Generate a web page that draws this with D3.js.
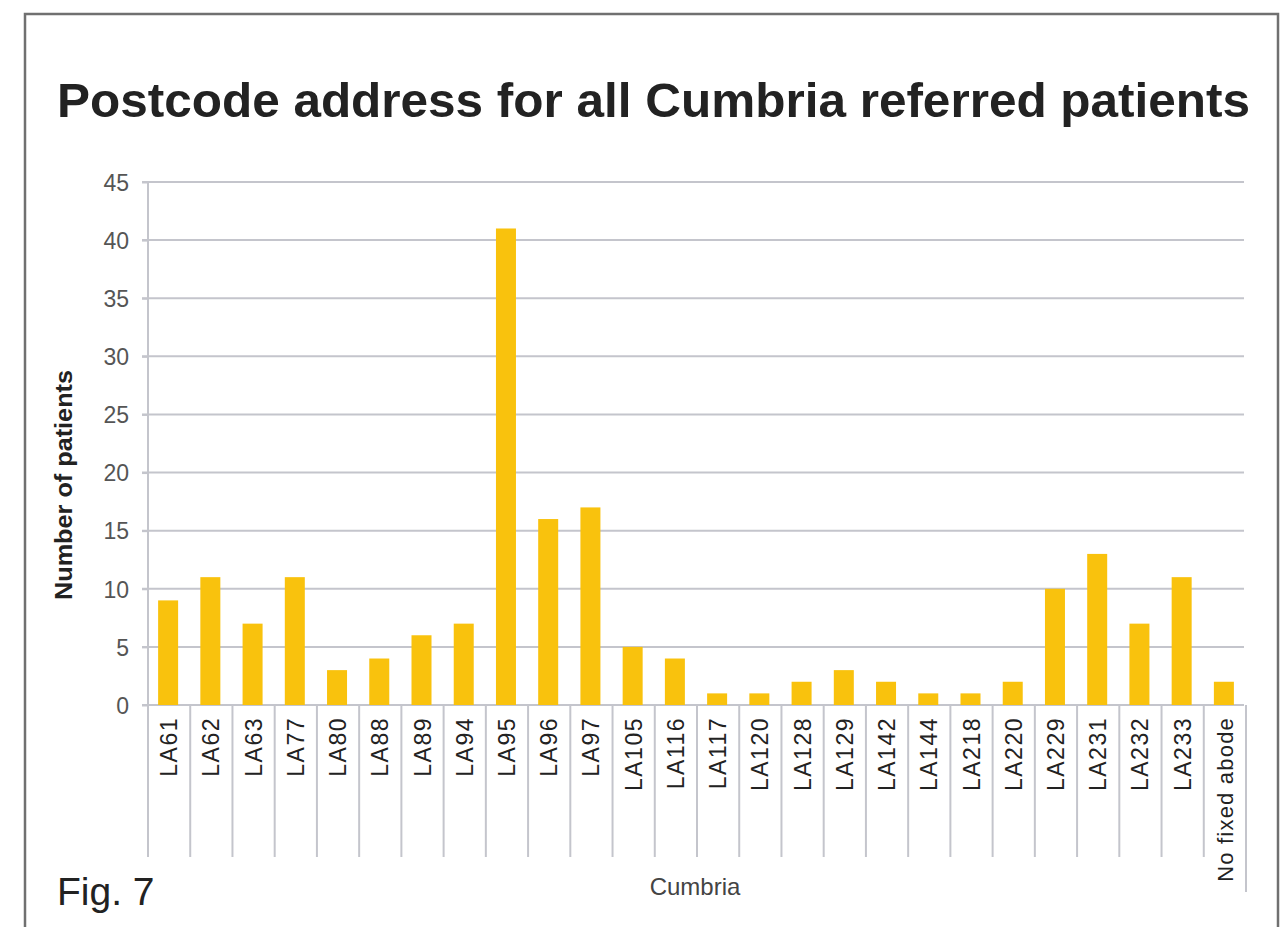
<!DOCTYPE html>
<html>
<head>
<meta charset="utf-8">
<script src="https://cdn.jsdelivr.net/npm/d3@7"></script>
<style>
  html, body { margin: 0; padding: 0; background: #fff; }
  svg { display: block; font-family: "Liberation Sans", Arial, sans-serif; }
</style>
</head>
<body>
<svg id="chart" width="1282" height="927"></svg>
<script>
(function (d3) {
    'use strict';

    var categories = ['LA61', 'LA62', 'LA63', 'LA77', 'LA80', 'LA88', 'LA89', 'LA94', 'LA95',
        'LA96', 'LA97', 'LA105', 'LA116', 'LA117', 'LA120', 'LA128', 'LA129', 'LA142',
        'LA144', 'LA218', 'LA220', 'LA229', 'LA231', 'LA232', 'LA233', 'No fixed abode'];
    var patients = [9, 11, 7, 11, 3, 4, 6, 7, 41, 16, 17, 5, 4, 1, 1, 2, 3, 2, 1, 1, 2, 10, 13, 7, 11, 2];
    var yTicks = [0, 5, 10, 15, 20, 25, 30, 35, 40, 45];

    var svg = d3.select('#chart');

    var left = 148, right = 1246, top = 182, bottom = 705;
    var gridColor = '#c4c5cc';

    var x = d3.scaleBand().domain(categories).range([left, right]).paddingInner(0).paddingOuter(0);
    var y = d3.scaleLinear().domain([0, 45]).range([bottom, top]);

    // outer frame
    svg.append('path')
        .attr('d', 'M25,940 V14 H1278 V940')
        .attr('fill', 'none')
        .attr('stroke', '#707070')
        .attr('stroke-width', 2.5);

    svg.append('text')
        .attr('x', 57).attr('y', 117)
        .attr('font-size', 49).attr('font-weight', 'bold')
        .attr('fill', '#222')
        .attr('textLength', 1193).attr('lengthAdjust', 'spacingAndGlyphs')
        .text('Postcode address for all Cumbria referred patients');

    // gridlines
    svg.append('g')
        .selectAll('line')
        .data(yTicks)
        .enter()
        .append('line')
        .attr('x1', 142).attr('x2', 1244)
        .attr('y1', function (d) { return y(d); })
        .attr('y2', function (d) { return y(d); })
        .attr('stroke', gridColor)
        .attr('stroke-width', 2);

    // y axis
    var yAxis = svg.append('g')
        .attr('transform', 'translate(' + left + ',0)')
        .call(d3.axisLeft(y).tickValues(yTicks).tickSize(6).tickPadding(13));
    yAxis.select('.domain').remove();
    yAxis.selectAll('line').attr('stroke', gridColor).attr('stroke-width', 2);
    yAxis.selectAll('text')
        .attr('font-size', 23).attr('fill', '#555')
        .attr('dy', '0.36em')
        .attr('font-family', '"Liberation Sans", Arial, sans-serif');

    svg.append('line')
        .attr('x1', left).attr('x2', left)
        .attr('y1', top).attr('y2', 857)
        .attr('stroke', gridColor).attr('stroke-width', 2);

    // category separators
    svg.append('g')
        .selectAll('line')
        .data(categories)
        .enter()
        .append('line')
        .attr('x1', function (d) { return x(d) + x.bandwidth(); })
        .attr('x2', function (d) { return x(d) + x.bandwidth(); })
        .attr('y1', bottom)
        .attr('y2', function (d, i) { return i === categories.length - 1 ? 892 : 857; })
        .attr('stroke', gridColor).attr('stroke-width', 2);

    // bars
    var barW = 20;
    svg.append('g')
        .selectAll('rect')
        .data(categories)
        .enter()
        .append('rect')
        .attr('x', function (d) { return x(d) + x.bandwidth() / 2 - barW / 2 - 1; })
        .attr('width', barW)
        .attr('y', function (d, i) { return y(patients[i]); })
        .attr('height', function (d, i) { return bottom - y(patients[i]); })
        .attr('fill', '#f9c20d');

    // category labels
    svg.append('g')
        .selectAll('text')
        .data(categories)
        .enter()
        .append('text')
        .attr('transform', function (d) {
            return 'translate(' + (x(d) + x.bandwidth() / 2 + 8) + ',' + 717 + ') rotate(-90)';
        })
        .attr('text-anchor', 'end')
        .attr('font-size', function (d) { return d.length > 6 ? 22 : 23; })
        .attr('letter-spacing', function (d) { return d.length > 6 ? 1.2 : 1.5; })
        .attr('fill', '#222')
        .text(function (d) { return d; });

    svg.append('text')
        .attr('transform', 'translate(72,485) rotate(-90)')
        .attr('text-anchor', 'middle')
        .attr('font-size', 24).attr('font-weight', 'bold')
        .attr('fill', '#222')
        .attr('textLength', 230).attr('lengthAdjust', 'spacingAndGlyphs')
        .text('Number of patients');

    svg.append('text')
        .attr('x', 695).attr('y', 895)
        .attr('text-anchor', 'middle')
        .attr('font-size', 24).attr('fill', '#444')
        .text('Cumbria');

    svg.append('text')
        .attr('x', 57).attr('y', 905)
        .attr('font-size', 39).attr('fill', '#222')
        .text('Fig. 7');
})(d3);
</script>
</body>
</html>
